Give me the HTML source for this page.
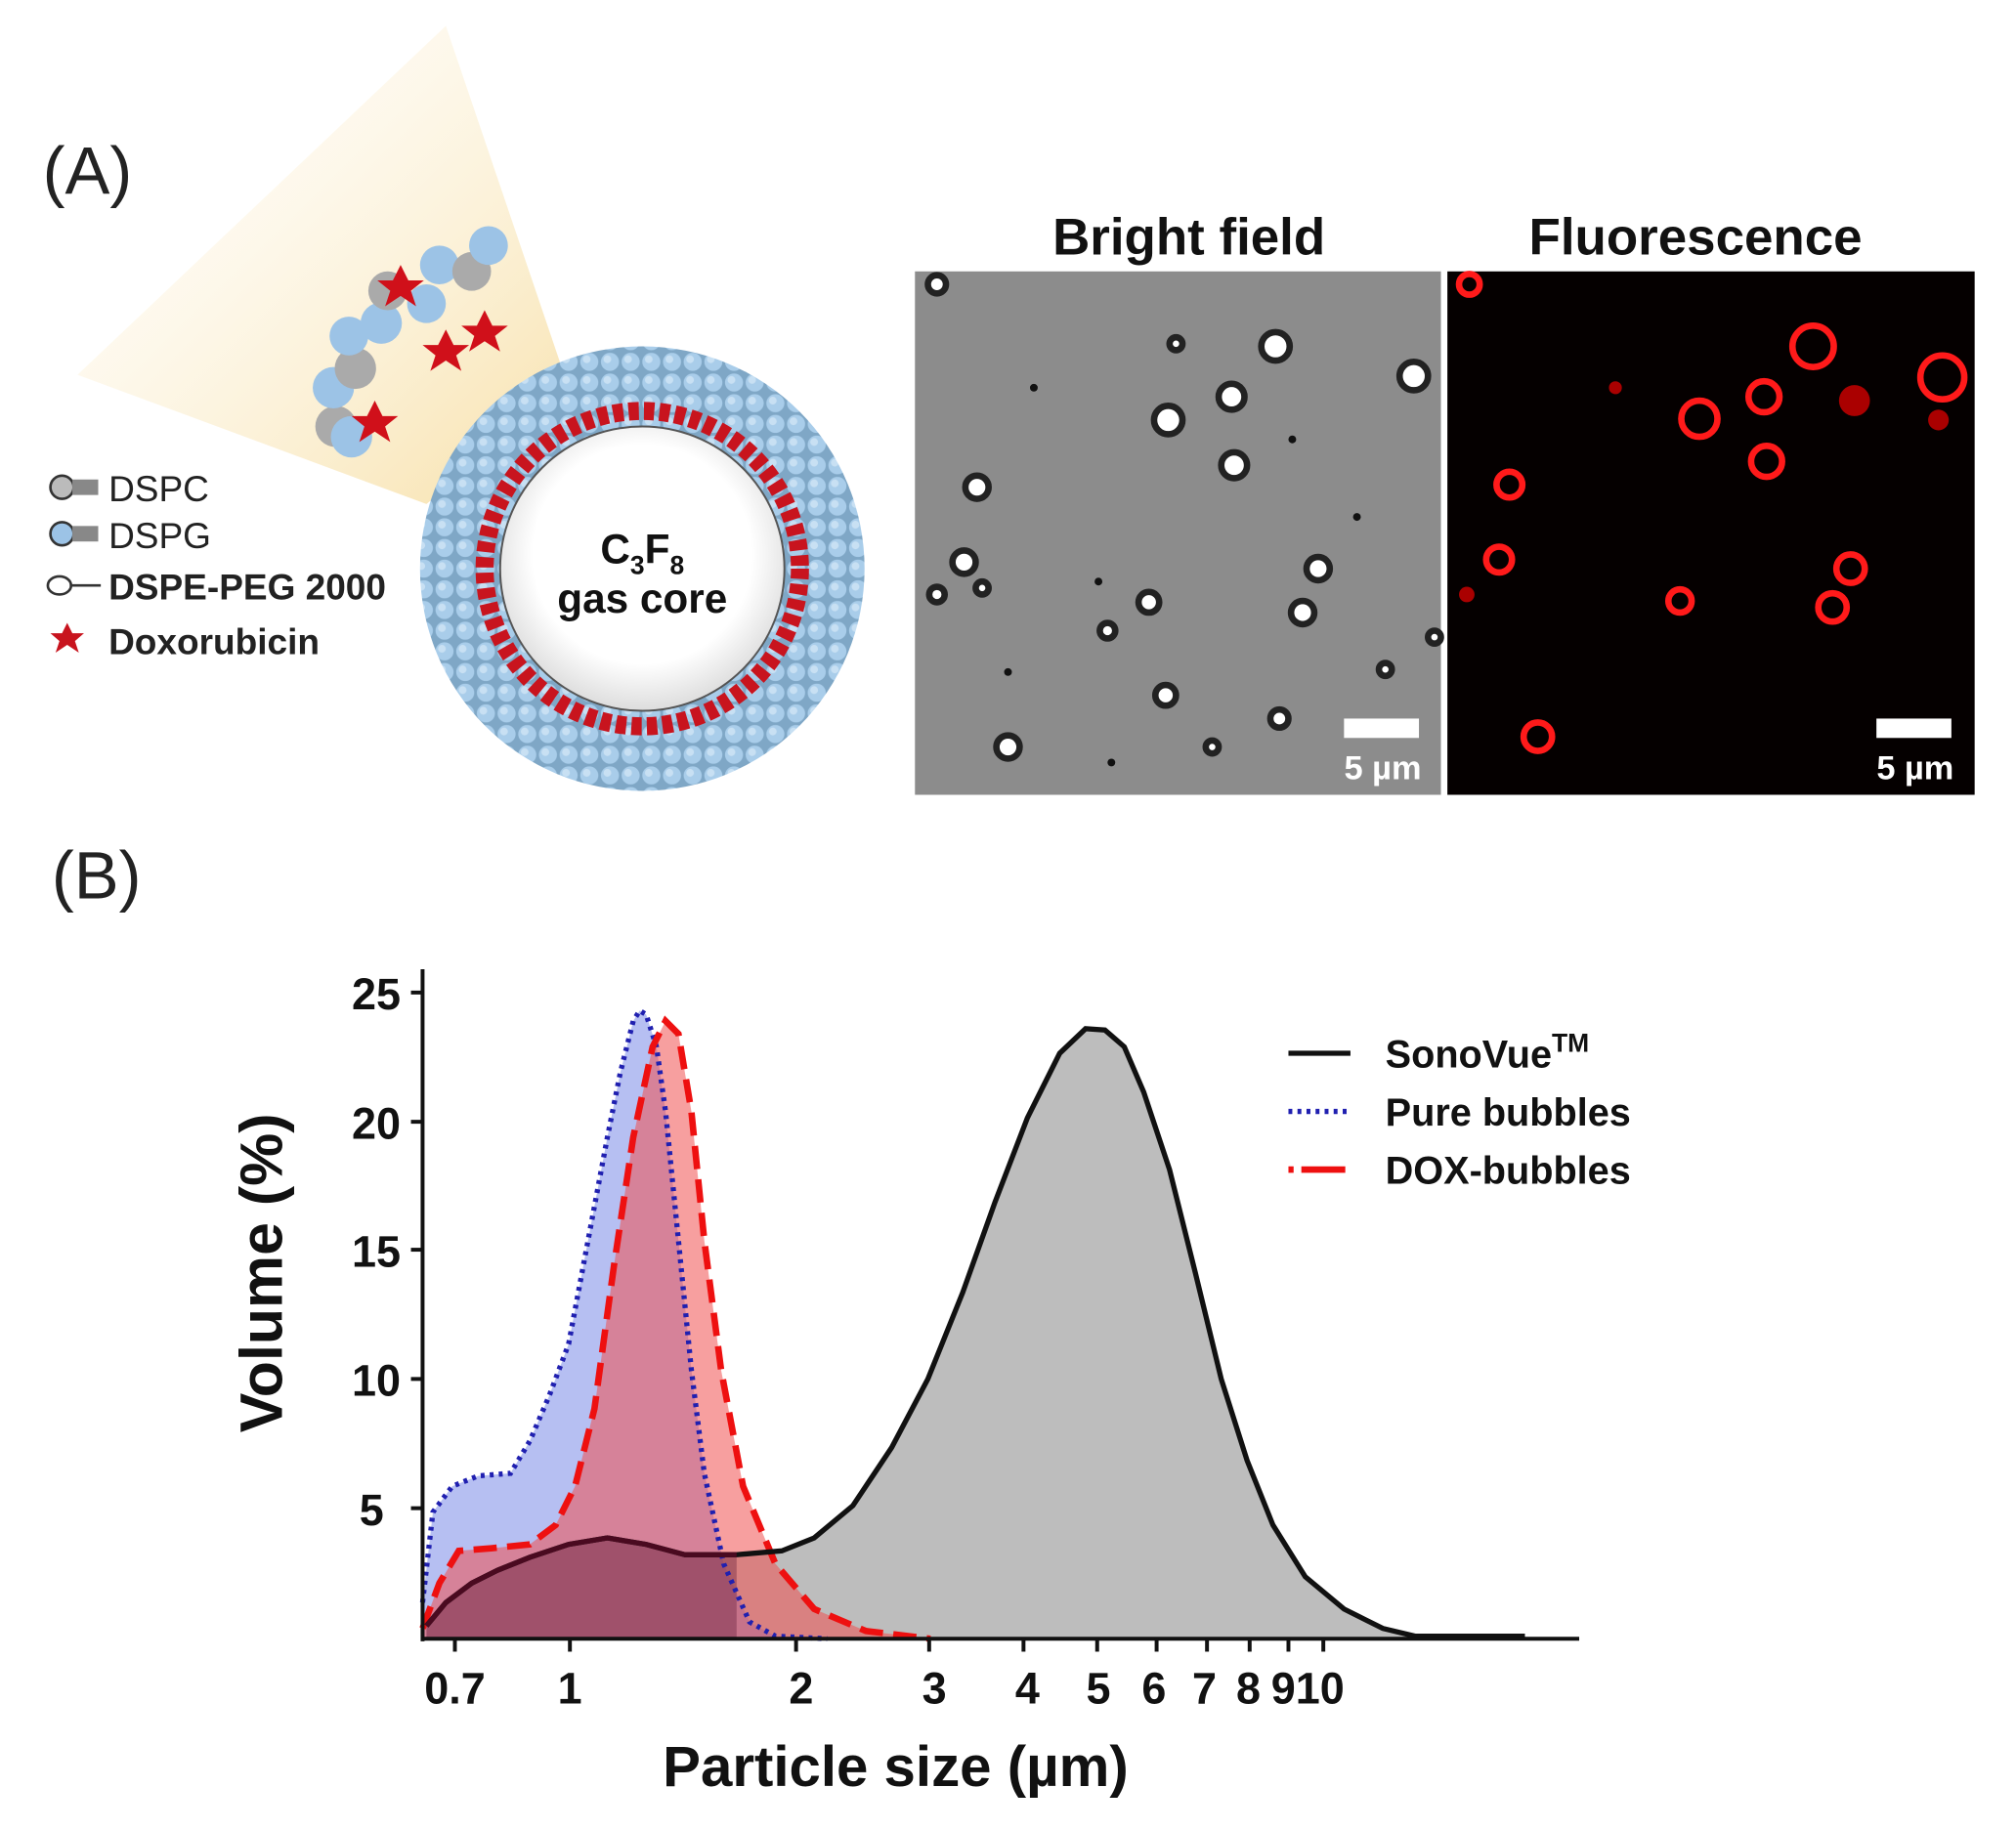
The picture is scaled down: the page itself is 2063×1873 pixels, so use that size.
<!DOCTYPE html>
<html><head><meta charset="utf-8"><style>
html,body{margin:0;padding:0;background:#fff;}
svg{display:block;}
text{font-family:"Liberation Sans",Arial,sans-serif;}
</style></head><body>
<svg width="2063" height="1873" viewBox="0 0 1560 1416" preserveAspectRatio="none" xmlns="http://www.w3.org/2000/svg">
<defs>
<linearGradient id="cone" x1="0" y1="0" x2="1" y2="1">
<stop offset="0" stop-color="#fffdf8" stop-opacity="0.2"/>
<stop offset="1" stop-color="#f7e0a8"/>
</linearGradient>
<pattern id="balls" width="16" height="16" patternUnits="userSpaceOnUse">
<rect width="16" height="16" fill="#7fa7c6"/>
<circle cx="8" cy="8" r="7" fill="#a9cdea"/>
<circle cx="6" cy="6" r="3" fill="#c8e0f3"/>
</pattern>
<radialGradient id="core" cx="0.5" cy="0.45" r="0.55">
<stop offset="0.7" stop-color="#fff"/><stop offset="1" stop-color="#ddd"/>
</radialGradient>
</defs>

<text x="33" y="150" font-size="52" fill="#222">(A)</text>
<text x="40" y="695" font-size="52" fill="#222">(B)</text>

<polygon points="345,20 440,300 330,390 60,290" fill="url(#cone)"/>
<g>
<circle cx="260" cy="330" r="16" fill="#aaa"/><circle cx="272" cy="338" r="16" fill="#9cc3e6"/>
<circle cx="258" cy="300" r="16" fill="#9cc3e6"/><circle cx="275" cy="285" r="16" fill="#aaa"/>
<circle cx="270" cy="260" r="15" fill="#9cc3e6"/><circle cx="295" cy="250" r="16" fill="#9cc3e6"/>
<circle cx="300" cy="225" r="15" fill="#aaa"/><circle cx="330" cy="235" r="15" fill="#9cc3e6"/>
<circle cx="340" cy="205" r="15" fill="#9cc3e6"/><circle cx="365" cy="210" r="15" fill="#aaa"/>
<circle cx="378" cy="190" r="15" fill="#9cc3e6"/>
<polygon points="290,310 296,322 308,322 298,330 302,342 290,334 278,342 282,330 272,322 284,322" fill="#d0101a"/>
<polygon points="345,255 351,267 363,267 353,275 357,287 345,279 333,287 337,275 327,267 339,267" fill="#d0101a"/>
<polygon points="375,240 381,252 393,252 383,260 387,272 375,264 363,272 367,260 357,252 369,252" fill="#d0101a"/>
<polygon points="310,205 316,217 328,217 318,225 322,237 310,229 298,237 302,225 292,217 304,217" fill="#d0101a"/>
</g>
<circle cx="497" cy="440" r="172" fill="url(#balls)"/>
<circle cx="497" cy="440" r="122" fill="none" stroke="#c8141e" stroke-width="14" stroke-dasharray="8 4"/>
<circle cx="497" cy="440" r="110" fill="url(#core)" stroke="#555" stroke-width="1.5"/>
<text x="497" y="436" font-size="32" font-weight="bold" text-anchor="middle" fill="#111">C<tspan font-size="20" dy="8">3</tspan><tspan dy="-8">F</tspan><tspan font-size="20" dy="8">8</tspan></text>
<text x="497" y="474" font-size="32" font-weight="bold" text-anchor="middle" fill="#111">gas core</text>

<circle cx="48" cy="377" r="9" fill="#bbb" stroke="#333" stroke-width="2"/><rect x="56" y="371" width="20" height="12" fill="#888"/>
<text x="84" y="388" font-size="28" fill="#222">DSPC</text>
<circle cx="48" cy="413" r="9" fill="#9cc3e6" stroke="#333" stroke-width="2"/><rect x="56" y="407" width="20" height="12" fill="#888"/>
<text x="84" y="424" font-size="28" fill="#222">DSPG</text>
<ellipse cx="46" cy="453" rx="9" ry="7" fill="none" stroke="#333" stroke-width="2"/><line x1="54" y1="453" x2="78" y2="453" stroke="#333" stroke-width="2"/>
<text x="84" y="464" font-size="28" font-weight="bold" fill="#222">DSPE-PEG  2000</text>
<polygon points="52,482 56,490 65,490 58,496 61,505 52,499 43,505 46,496 39,490 48,490" fill="#c8141e"/>
<text x="84" y="506" font-size="28" font-weight="bold" fill="#222">Doxorubicin</text>

<text x="920" y="197" font-size="40" font-weight="bold" text-anchor="middle" fill="#111">Bright field</text>
<text x="1312" y="197" font-size="40" font-weight="bold" text-anchor="middle" fill="#111">Fluorescence</text>
<rect x="708" y="210" width="407" height="405" fill="#8c8c8c"/>
<g fill="#fff" stroke="#222" stroke-width="5">
<circle cx="987" cy="268" r="11"/><circle cx="1094" cy="291" r="11"/><circle cx="904" cy="325" r="11"/>
<circle cx="953" cy="307" r="10"/><circle cx="955" cy="360" r="10"/><circle cx="756" cy="377" r="9"/>
<circle cx="746" cy="435" r="9"/><circle cx="1020" cy="440" r="9"/><circle cx="1008" cy="474" r="9"/>
<circle cx="889" cy="466" r="8"/><circle cx="902" cy="538" r="8"/><circle cx="780" cy="578" r="9"/>
<circle cx="990" cy="556" r="7"/><circle cx="725" cy="220" r="7"/><circle cx="910" cy="266" r="5"/>
<circle cx="725" cy="460" r="6"/><circle cx="857" cy="488" r="6"/><circle cx="1072" cy="518" r="5"/>
<circle cx="1110" cy="493" r="5"/><circle cx="760" cy="455" r="5"/><circle cx="938" cy="578" r="5"/>
</g>
<g fill="#111"><circle cx="800" cy="300" r="3"/><circle cx="850" cy="450" r="3"/><circle cx="1050" cy="400" r="3"/><circle cx="780" cy="520" r="3"/><circle cx="1000" cy="340" r="3"/><circle cx="860" cy="590" r="3"/></g>
<rect x="1040" y="556" width="58" height="15" fill="#fff"/>
<text x="1070" y="603" font-size="26" font-weight="bold" text-anchor="middle" fill="#fff">5 µm</text>

<rect x="1120" y="210" width="408" height="405" fill="#050000"/>
<g fill="none" stroke="#ff1a1a" stroke-width="5">
<circle cx="1403" cy="268" r="16"/><circle cx="1503" cy="292" r="17"/><circle cx="1315" cy="324" r="14"/>
<circle cx="1365" cy="307" r="12"/><circle cx="1367" cy="357" r="12"/><circle cx="1168" cy="375" r="10"/>
<circle cx="1160" cy="433" r="10"/><circle cx="1432" cy="440" r="11"/><circle cx="1418" cy="470" r="11"/>
<circle cx="1300" cy="465" r="9"/><circle cx="1190" cy="570" r="11"/><circle cx="1137" cy="220" r="8"/>
</g>
<g fill="#a00"><circle cx="1435" cy="310" r="12"/><circle cx="1500" cy="325" r="8"/><circle cx="1135" cy="460" r="6"/><circle cx="1250" cy="300" r="5"/></g>
<rect x="1452" y="556" width="58" height="15" fill="#fff"/>
<text x="1482" y="603" font-size="26" font-weight="bold" text-anchor="middle" fill="#fff">5 µm</text>

<path d="M330,1258 L345,1240 L365,1225 L385,1215 L410,1205 L440,1195 L470,1190 L500,1195 L530,1203 L570,1203 L605,1200 L630,1190 L660,1165 L690,1120 L718,1067 L745,1000 L770,930 L795,865 L820,815 L840,796 L855,797 L870,810 L885,845 L905,905 L925,985 L945,1067 L965,1130 L985,1180 L1010,1220 L1040,1245 L1070,1260 L1095,1266 L1180,1266 L1180,1268 L330,1268 Z" fill="#bdbdbd"/>
<path d="M327,1240 L335,1170 L350,1150 L370,1142 L395,1140 L410,1115 L425,1080 L440,1040 L455,960 L470,880 L480,830 L490,790 L495,782 L500,785 L508,810 L515,860 L525,960 L535,1060 L545,1140 L560,1210 L580,1255 L600,1266 L640,1268 L327,1268 Z" fill="#6e7fe6" fill-opacity="0.5"/>
<path d="M327,1260 L340,1225 L355,1200 L380,1198 L410,1195 L430,1180 L445,1150 L460,1090 L475,980 L490,880 L505,810 L515,790 L525,800 L535,860 L545,960 L558,1060 L575,1150 L600,1210 L630,1245 L670,1262 L720,1268 L327,1268 Z" fill="#f05050" fill-opacity="0.55"/>
<path d="M330,1258 L345,1240 L365,1225 L385,1215 L410,1205 L440,1195 L470,1190 L500,1195 L530,1203 L570,1203 L570,1268 L330,1268 Z" fill="#5a1030" fill-opacity="0.35"/>
<path d="M327,1240 L335,1170 L350,1150 L370,1142 L395,1140 L410,1115 L425,1080 L440,1040 L455,960 L470,880 L480,830 L490,790 L495,782 L500,785 L508,810 L515,860 L525,960 L535,1060 L545,1140 L560,1210 L580,1255 L600,1266 L640,1268" fill="none" stroke="#2020b0" stroke-width="4" stroke-dasharray="3 4"/>
<path d="M327,1260 L340,1225 L355,1200 L380,1198 L410,1195 L430,1180 L445,1150 L460,1090 L475,980 L490,880 L505,810 L515,790 L525,800 L535,860 L545,960 L558,1060 L575,1150 L600,1210 L630,1245 L670,1262 L720,1268" fill="none" stroke="#ee1010" stroke-width="5" stroke-dasharray="18 8"/>
<path d="M330,1258 L345,1240 L365,1225 L385,1215 L410,1205 L440,1195 L470,1190 L500,1195 L530,1203 L570,1203 L605,1200 L630,1190 L660,1165 L690,1120 L718,1067 L745,1000 L770,930 L795,865 L820,815 L840,796 L855,797 L870,810 L885,845 L905,905 L925,985 L945,1067 L965,1130 L985,1180 L1010,1220 L1040,1245 L1070,1260 L1095,1266 L1180,1266" fill="none" stroke="#111" stroke-width="4"/>
<path d="M330,1258 L345,1240 L365,1225 L385,1215 L410,1205 L440,1195 L470,1190 L500,1195 L530,1203 L570,1203" fill="none" stroke="#4a0a20" stroke-width="4"/>

<line x1="327" y1="750" x2="327" y2="1270" stroke="#111" stroke-width="3"/>
<line x1="326" y1="1268" x2="1222" y2="1268" stroke="#111" stroke-width="3"/>
<g stroke="#111" stroke-width="3">
<line x1="318" y1="768" x2="327" y2="768"/><line x1="318" y1="868" x2="327" y2="868"/><line x1="318" y1="967" x2="327" y2="967"/><line x1="318" y1="1067" x2="327" y2="1067"/><line x1="318" y1="1167" x2="327" y2="1167"/>
<line x1="352" y1="1268" x2="352" y2="1278"/><line x1="441" y1="1268" x2="441" y2="1278"/><line x1="616" y1="1268" x2="616" y2="1278"/><line x1="719" y1="1268" x2="719" y2="1278"/><line x1="792" y1="1268" x2="792" y2="1278"/><line x1="849" y1="1268" x2="849" y2="1278"/><line x1="895" y1="1268" x2="895" y2="1278"/><line x1="934" y1="1268" x2="934" y2="1278"/><line x1="967" y1="1268" x2="967" y2="1278"/><line x1="997" y1="1268" x2="997" y2="1278"/><line x1="1024" y1="1268" x2="1024" y2="1278"/>
</g>
<g font-size="34" font-weight="bold" fill="#111" text-anchor="end">
<text x="310" y="781">25</text><text x="310" y="881">20</text><text x="310" y="980">15</text><text x="310" y="1080">10</text><text x="297" y="1180">5</text>
</g>
<g font-size="34" font-weight="bold" fill="#111" text-anchor="middle">
<text x="352" y="1318">0.7</text><text x="441" y="1318">1</text><text x="620" y="1318">2</text><text x="723" y="1318">3</text><text x="795" y="1318">4</text><text x="850" y="1318">5</text><text x="893" y="1318">6</text><text x="932" y="1318">7</text><text x="966" y="1318">8</text><text x="1012" y="1318">910</text>
</g>
<text x="693" y="1382" font-size="44" font-weight="bold" text-anchor="middle" fill="#111">Particle size (µm)</text>
<text transform="translate(218,985) rotate(-90)" font-size="46" font-weight="bold" text-anchor="middle" fill="#111">Volume (%)</text>

<line x1="997" y1="815" x2="1045" y2="815" stroke="#111" stroke-width="4"/>
<line x1="997" y1="860" x2="1045" y2="860" stroke="#2020b0" stroke-width="4" stroke-dasharray="3 4"/>
<line x1="997" y1="905" x2="1045" y2="905" stroke="#ee1010" stroke-width="5" stroke-dasharray="4 6 30 0"/>
<g font-size="30" font-weight="bold" fill="#111">
<text x="1072" y="826">SonoVue<tspan font-size="20" dy="-12">TM</tspan></text>
<text x="1072" y="871">Pure bubbles</text>
<text x="1072" y="916">DOX-bubbles</text>
</g>
</svg>
</body></html>
